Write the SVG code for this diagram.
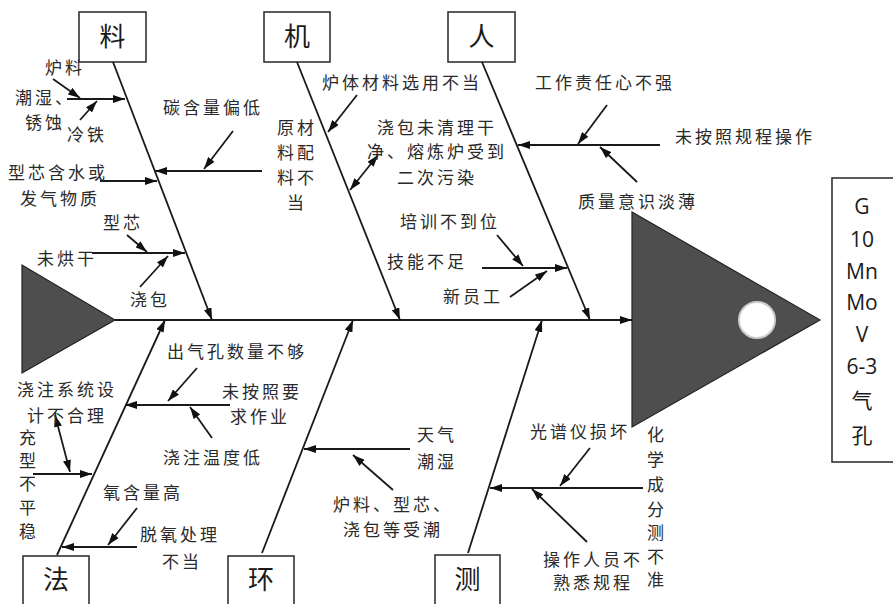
<svg xmlns="http://www.w3.org/2000/svg" width="893" height="604" viewBox="0 0 893 604">
<style>
.t{font-family:"Noto Sans CJK SC","Noto Sans",sans-serif;font-size:17px;fill:#2a2a2a;letter-spacing:3px}
.m{text-anchor:middle}
.b{font-family:"Noto Sans CJK SC","Noto Sans",sans-serif;font-size:26px;fill:#1a1a1a;text-anchor:middle}
.r{font-family:"Open Sans","Noto Sans","Noto Sans CJK SC",sans-serif;font-size:21px;fill:#1a1a1a;text-anchor:middle}
.box{fill:#fff;stroke:#333;stroke-width:1.6}
.c line{stroke:#1a1a1a;stroke-width:1.8;marker-end:url(#ah)}
.c line.d{marker-start:url(#ahs)}
.fish{fill:#4e4e4e;stroke:#222;stroke-width:1.2}
</style>
<defs>
<marker id="ah" markerUnits="userSpaceOnUse" markerWidth="12" markerHeight="8" refX="12" refY="4" orient="auto"><path d="M0,0 L12,4 L0,8 z" fill="#111"/></marker>
<marker id="ahs" markerUnits="userSpaceOnUse" markerWidth="12" markerHeight="8" refX="12" refY="4" orient="auto-start-reverse"><path d="M0,0 L12,4 L0,8 z" fill="#111"/></marker>
</defs>
<rect width="893" height="604" fill="#fff"/>

<g id="tail"><polygon class="fish" points="22,265 22,373 115,320"/></g>
<g id="head">
<polygon class="fish" points="632,212 632,427 820,320"/>
<circle cx="757" cy="320" r="18" fill="#fff" stroke="#ccc" stroke-width="2"/>
</g>
<g id="result">
<rect class="box" x="832" y="178" width="70" height="284"/>
<text class="r" x="862" y="214">G</text>
<text class="r" x="862" y="247">10</text>
<text class="r" x="862" y="279">Mn</text>
<text class="r" x="862" y="310">Mo</text>
<text class="r" x="862" y="342">V</text>
<text class="r" x="862" y="374">6-3</text>
<text class="r" x="862" y="408" style="font-family:'Noto Sans CJK SC',sans-serif">气</text>
<text class="r" x="862" y="443" style="font-family:'Noto Sans CJK SC',sans-serif">孔</text>
</g>

<g id="box-liao"><rect class="box" x="79" y="12" width="67" height="50"/><text class="b" x="112.5" y="46">料</text></g>
<g id="box-ji"><rect class="box" x="264" y="12" width="66" height="50"/><text class="b" x="297" y="46">机</text></g>
<g id="box-ren"><rect class="box" x="448" y="12" width="67" height="50"/><text class="b" x="481.5" y="46">人</text></g>
<g id="box-fa"><rect class="box" x="23" y="556" width="66" height="52"/><text class="b" x="56" y="589">法</text></g>
<g id="box-huan"><rect class="box" x="228" y="556" width="66" height="52"/><text class="b" x="261" y="589">环</text></g>
<g id="box-ce"><rect class="box" x="435" y="555" width="65" height="53"/><text class="b" x="467.5" y="589">测</text></g>

<g id="connectors" class="c">
<line x1="115" y1="320" x2="632" y2="320" style="stroke-width:2.2"/>
<line x1="113" y1="62" x2="212" y2="320"/>
<line x1="297" y1="62" x2="400" y2="320"/>
<line x1="482" y1="62" x2="590" y2="320"/>
<line x1="57" y1="555" x2="165" y2="320"/>
<line x1="262" y1="553" x2="353" y2="320"/>
<line x1="468" y1="553" x2="542" y2="320"/>
<!-- 料 -->
<line x1="67" y1="99" x2="125" y2="99"/>
<line x1="53" y1="79" x2="80" y2="98"/>
<line x1="80" y1="120" x2="97" y2="101"/>
<line x1="262" y1="171" x2="155" y2="171"/>
<line x1="233" y1="131" x2="204" y2="169"/>
<line x1="100" y1="181" x2="157" y2="181"/>
<line x1="92" y1="253" x2="185" y2="253"/>
<line x1="127" y1="235" x2="147" y2="252"/>
<line x1="140" y1="287" x2="168" y2="256"/>
<!-- 机 -->
<line x1="357" y1="95" x2="328" y2="132"/>
<line class="d" x1="378" y1="155" x2="350" y2="190"/>
<!-- 人 -->
<line x1="660" y1="145" x2="518" y2="145"/>
<line x1="607" y1="105" x2="578" y2="144"/>
<line x1="637" y1="182" x2="600" y2="147"/>
<line x1="482" y1="268" x2="567" y2="268"/>
<line x1="497" y1="235" x2="523" y2="266"/>
<line x1="510" y1="297" x2="547" y2="271"/>
<!-- 法 -->
<line x1="230" y1="405" x2="125" y2="405"/>
<line x1="197" y1="368" x2="168" y2="401"/>
<line x1="212" y1="438" x2="190" y2="407"/>
<line class="d" x1="55" y1="415" x2="70" y2="472"/>
<line x1="33" y1="474" x2="92" y2="474"/>
<line x1="137" y1="508" x2="108" y2="545"/>
<line x1="137" y1="547" x2="62" y2="547"/>
<!-- 环 -->
<line x1="410" y1="449" x2="304" y2="449"/>
<line x1="393" y1="490" x2="353" y2="455"/>
<!-- 测 -->
<line x1="643" y1="488" x2="490" y2="488"/>
<line x1="590" y1="448" x2="560" y2="486"/>
<line x1="587" y1="542" x2="532" y2="489"/>
</g>

<g id="labels">
<text class="t" x="45" y="74">炉料</text>
<text class="t" x="15" y="104">潮湿、</text>
<text class="t" x="25" y="129">锈蚀</text>
<text class="t" x="67" y="141">冷铁</text>
<text class="t" x="163" y="114">碳含量偏低</text>
<text class="t" x="8" y="179">型芯含水或</text>
<text class="t" x="20" y="205">发气物质</text>
<text class="t" x="103" y="229">型芯</text>
<text class="t" x="37" y="265">未烘干</text>
<text class="t" x="130" y="306">浇包</text>

<text class="t" x="322" y="89">炉体材料选用不当</text>
<text class="t m" x="297" y="134">原材</text>
<text class="t m" x="297" y="159">料配</text>
<text class="t m" x="297" y="184">料不</text>
<text class="t m" x="297" y="209">当</text>
<text class="t m" x="437" y="134">浇包未清理干</text>
<text class="t m" x="437" y="158">净、熔炼炉受到</text>
<text class="t m" x="437" y="184">二次污染</text>

<text class="t" x="535" y="89">工作责任心不强</text>
<text class="t" x="675" y="143">未按照规程操作</text>
<text class="t" x="578" y="208">质量意识淡薄</text>
<text class="t" x="400" y="228">培训不到位</text>
<text class="t" x="387" y="268">技能不足</text>
<text class="t" x="443" y="303">新员工</text>

<text class="t" x="167" y="358">出气孔数量不够</text>
<text class="t" x="17" y="396">浇注系统设</text>
<text class="t" x="27" y="422">计不合理</text>
<text class="t m" x="29" y="444">充</text>
<text class="t m" x="29" y="467">型</text>
<text class="t m" x="29" y="490">不</text>
<text class="t m" x="29" y="514">平</text>
<text class="t m" x="29" y="538">稳</text>
<text class="t" x="222" y="398">未按照要</text>
<text class="t" x="230" y="423">求作业</text>
<text class="t" x="163" y="464">浇注温度低</text>
<text class="t" x="103" y="499">氧含量高</text>
<text class="t" x="140" y="541">脱氧处理</text>
<text class="t" x="162" y="568">不当</text>

<text class="t" x="417" y="441">天气</text>
<text class="t" x="417" y="468">潮湿</text>
<text class="t" x="333" y="511">炉料、型芯、</text>
<text class="t" x="343" y="536">浇包等受潮</text>

<text class="t" x="530" y="438">光谱仪损坏</text>
<text class="t" x="543" y="566">操作人员不</text>
<text class="t" x="553" y="589">熟悉规程</text>
<text class="t m" x="657" y="441">化</text>
<text class="t m" x="657" y="466">学</text>
<text class="t m" x="657" y="491">成</text>
<text class="t m" x="657" y="516">分</text>
<text class="t m" x="657" y="539">测</text>
<text class="t m" x="657" y="563">不</text>
<text class="t m" x="657" y="586">准</text>
</g>
</svg>
